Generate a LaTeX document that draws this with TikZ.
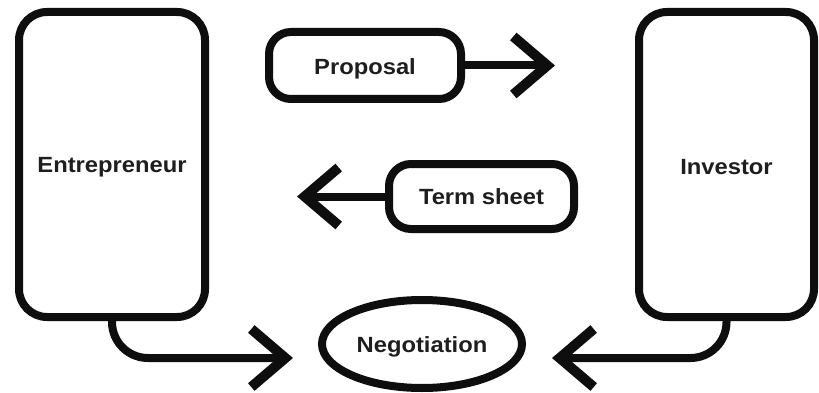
\documentclass[tikz,border=0pt]{standalone}
\usepackage{fontspec}
\newfontfamily\labelfont{Liberation Sans}[FakeStretch=1.08]
\usetikzlibrary{arrows.meta,shapes.geometric}
\definecolor{ink}{HTML}{0E0E0E}
\definecolor{txt}{HTML}{1E1E1E}
% label text, lowered slightly inside its shape
\newcommand\lbl[1]{\raisebox{-3pt}[\height][\depth]{#1}}
\begin{document}
\begin{tikzpicture}[x=1pt,y=-1pt,
  every node/.style={font=\labelfont\bfseries\fontsize{22}{25}\selectfont, text=txt},
  actor/.style={draw=ink, line width=8pt, rounded corners=28pt, fill=white, inner sep=0pt},
  doc/.style={draw=ink, line width=8pt, rounded corners=22pt, fill=white, inner sep=0pt},
  talk/.style={draw=ink, line width=8pt, ellipse, fill=white, inner sep=0pt},
  flow/.style={draw=ink, line width=8pt,
    -{Straight Barb[length=34pt,width=58pt,line width=10pt,line cap=butt,line join=miter]}},
  curvedflow/.style={flow, rounded corners=36pt}]
\useasboundingbox[fill=white] (0,0) rectangle (819,393);

% the two parties
\node[actor, minimum width=186pt, minimum height=305pt] (ent) at (112,164.5) {\lbl{Entrepreneur}};
\node[actor, minimum width=175pt, minimum height=305pt] (inv) at (726.5,164.5) {\lbl{Investor}};

% documents exchanged between them
\node[doc, minimum width=192pt, minimum height=67pt] (prop) at (365,65.5) {\lbl{Proposal}};
\node[doc, minimum width=185pt, minimum height=65pt] (term) at (481.5,196.5) {Term sheet};

% where both sides meet
\node[talk, minimum width=200pt, minimum height=88pt] (neg) at (422,344) {\lbl{Negotiation}};

% free ends of the arrows
\coordinate (propTip) at (555,65.5);
\coordinate (termTip) at (297,196.5);
\coordinate (negL) at (293,358);
\coordinate (negR) at (552,358);

\draw[flow] (prop.east) -- (propTip);
\draw[flow] (term.west) -- (termTip);
\draw[curvedflow] (ent.south) |- (negL);
\draw[curvedflow] (inv.south) |- (negR);
\end{tikzpicture}
\end{document}
